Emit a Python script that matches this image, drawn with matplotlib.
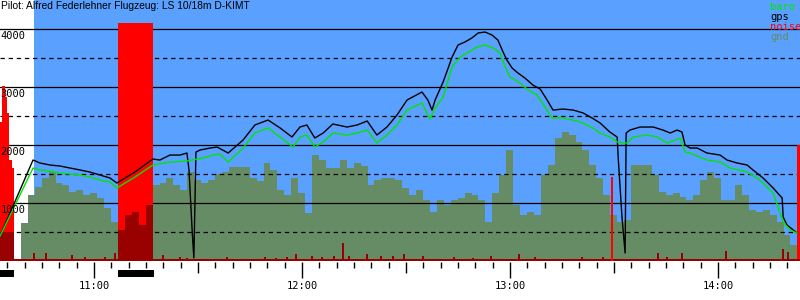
import numpy as np
from matplotlib import pyplot as plt

# times are minutes after 10:00, altitudes in metres
title = "Pilot: Alfred Federlehner Flugzeug: LS 10/18m D-KIMT"
flight_start = 42.7
t_min, t_max = 32.88, 263.65

gps_t = [32.9, 42.4, 44.4, 47.3, 50.2, 53.1, 56.0, 58.8, 61.7, 64.6, 66.6, 71.8, 77.0, 79.0,
         81.9, 84.8, 86.8, 87.4, 88.3, 88.8, 89.4, 90.6, 93.5, 95.5, 98.7, 103.0, 106.4,
         110.2, 113.7, 117.1, 119.4, 121.4, 123.7, 126.1, 128.9, 133.0, 135.9, 138.8,
         141.6, 144.5, 147.4, 150.3, 154.6, 156.3, 157.5, 158.4, 160.7, 163.3, 165.0,
         167.0, 169.0, 170.8, 172.8, 174.8, 176.5, 178.0, 179.1, 180.6, 182.3, 184.3,
         186.6, 188.7, 190.7, 192.4, 195.3, 198.2, 201.1, 203.7, 206.0, 208.8, 210.9,
         211.2, 212.3, 213.2, 213.5, 214.6, 217.5, 221.3, 224.1, 226.2, 228.2, 229.6,
         230.5, 231.9, 234.0, 236.8, 240.6, 242.6, 245.5, 248.4, 250.1, 253.0, 255.9,
         258.5, 258.8, 259.9, 262.8]
gps_alt = [431, 1741, 1690, 1655, 1638, 1603, 1569, 1534, 1483, 1431, 1345, 1534, 1758, 1741,
           1827, 1827, 1862, 1569, 534, 52, 1879, 1914, 1948, 1965, 1862, 2086, 2345,
           2431, 2293, 2138, 2310, 2345, 2121, 2207, 2362, 2310, 2345, 2414,
           2172, 2310, 2517, 2776, 2914, 2776, 2603, 2776, 3086, 3517, 3724,
           3776, 3845, 3931, 3948, 3896, 3810, 3603, 3465, 3327, 3241, 3155,
           3034, 2965, 2776, 2603, 2620, 2603, 2552, 2465, 2379, 2224, 2138,
           1793, 759, 138, 2207, 2258, 2310, 2310, 2258, 2207, 2258, 2224,
           2000, 1948, 1948, 1862, 1827, 1741, 1690, 1655, 1569, 1431, 1259,
           1086, 759, 621, 483]

baro_t = [32.9, 42.4, 44.4, 47.3, 50.2, 53.1, 56.0, 58.8, 61.7, 64.6, 66.6, 71.8, 77.0, 81.9,
          86.8, 91.4, 94.3, 96.3, 98.7, 103.0, 106.4, 110.2, 113.7, 117.4, 119.4, 121.4,
          123.7, 126.1, 128.9, 133.0, 135.9, 138.8, 141.6, 144.5, 147.4, 150.3, 154.6,
          156.9, 158.4, 160.7, 163.3, 165.6, 167.6, 170.5, 172.8, 175.1, 177.1, 178.6,
          180.0, 182.9, 185.2, 187.8, 190.1, 192.1, 195.3, 198.2, 201.1, 203.9, 206.0,
          208.8, 210.9, 213.8, 215.5, 219.5, 222.5, 225.3, 229.1, 230.5, 231.9, 236.8,
          240.6, 243.5, 248.4, 252.1, 255.9, 258.8, 260.8, 262.8]
baro_alt = [431, 1603, 1569, 1552, 1517, 1500, 1483, 1448, 1396, 1362, 1259, 1448, 1655, 1707,
            1724, 1776, 1827, 1845, 1707, 1948, 2207, 2293, 2138, 1965, 2138, 2172,
            1965, 2052, 2207, 2172, 2207, 2258, 2034, 2172, 2345, 2603, 2724,
            2448, 2638, 2827, 3345, 3517, 3586, 3689, 3724, 3672, 3586, 3345,
            3172, 3069, 2948, 2862, 2655, 2465, 2465, 2431, 2379, 2293, 2207,
            2138, 2052, 2034, 2138, 2172, 2138, 2034, 2121, 1879, 1862, 1741,
            1707, 1603, 1534, 1396, 1172, 672, 534, 483]

# ground elevation, one value per 2 minutes starting 10:32:54
gnd_start = 32.9
gnd = [500, 500, 0, 655, 1140, 1275, 1430, 1530, 1345, 1310, 1190, 1225, 1140, 1170,
       1085, 915, 670, 535, 790, 845, 620, 965, 1310, 1345, 1430, 1310, 1225, 1535,
       1395, 1345, 1395, 1500, 1535, 1620, 1620, 1620, 1430, 1380, 1690, 1570, 1225,
       1140, 1430, 1170, 830, 1830, 1740, 1600, 1600, 1740, 1600, 1690, 1640, 1310,
       1395, 1430, 1430, 1395, 1260, 1140, 1225, 1050, 845, 1050, 965, 1050, 1085,
       1170, 1140, 1050, 670, 1170, 1480, 1915, 965, 790, 845, 790, 1480, 1655, 2120,
       2225, 2170, 2050, 1915, 1655, 1430, 1140, 790, 670, 705, 1655, 1655, 1655, 1480,
       1190, 1140, 1170, 1105, 1050, 1140, 1395, 1535, 1430, 1050, 1050, 1310, 1140,
       880, 845, 880, 790, 670, 450, 275]

# engine noise periods
noise_start = [32.9, 33.5, 34.4, 35.0, 35.5, 36.2, 66.9, 262.8]
noise_end = [33.5, 34.4, 35.0, 35.5, 36.2, 36.9, 76.9, 263.7]
noise_level = [2400, 3017, 2828, 2552, 1741, 1600, 4110, 2000]
engine_runs = [(32.9, 36.9), (66.9, 77.3)]

# short noise spikes
spike_t = [42.7, 46.2, 53.7, 57.4, 63.2, 66.1, 79.9, 84.8, 86.8, 98.4, 109.3, 112.5,
           115.7, 118.3, 122.9, 125.8, 129.2, 131.8, 133.6, 138.8, 142.8, 146.2, 149.4,
           154.9, 163.8, 169.3, 174.5, 182.6, 187.2, 200.8, 206.8, 209.4, 222.7, 225.3,
           229.6, 242.3, 258.8, 260.2]
spike_v = [138, 138, 103, 69, 69, 138, 103, 69, 60, 69, 69, 60, 69, 121, 86, 69, 86,
           310, 86, 121, 86, 86, 121, 86, 69, 60, 86, 121, 69, 69, 69, 1448, 138, 69,
           138, 172, 207, 155]
noise_floor = 35

blue = '#5aa0ff'
gnd_col = '#658c64'
dark_red = '#990000'
baro_col = '#00e600'

fig = plt.figure(figsize=(8, 3), dpi=100)
ax = fig.add_axes([0, 0, 1, 1])
ax.set_xlim(t_min, t_max)
ax.set_ylim(-672, 4500)
ax.axis('off')

ax.fill_between([flight_start, t_max], 0, 4500, color=blue, lw=0, zorder=0)

gnd_t = gnd_start + 2 * np.arange(len(gnd))
engine = np.zeros(len(gnd), dtype=bool)
for s, e in engine_runs:
    engine |= (gnd_t >= s - 0.01) & (gnd_t < e - 0.5)
ax.bar(gnd_t, gnd, width=2, align='edge', color=gnd_col, lw=0, zorder=1)

# grid
for v in range(500, 4001, 500):
    if v % 1000 == 0:
        ax.axhline(v, color='black', lw=0.9, zorder=2)
    else:
        ax.axhline(v, color='black', lw=0.9, ls=(0, (3.5, 3)), zorder=2)

ns = np.array(noise_start)
ne = np.array(noise_end)
ax.bar(ns, noise_level, width=ne - ns, align='edge', color='red', lw=0, zorder=3)
ax.bar(gnd_t[engine], np.array(gnd)[engine], width=2, align='edge', color=dark_red,
       lw=0, zorder=3.5)

ax.fill_between([t_min, t_max], 0, noise_floor, color=dark_red, lw=0, zorder=3)
scol = ['red' if v > 1000 else dark_red for v in spike_v]
ax.bar(spike_t, spike_v, width=0.45, color=scol, lw=0, zorder=3)

ax.plot(gps_t, gps_alt, color='black', lw=1.0, zorder=5)
ax.plot(baro_t, baro_alt, color=baro_col, lw=1.0, zorder=6)

# engine run markers under the axis
for s, e in engine_runs:
    ax.fill_between([s, e], -155, -276, color='black', lw=0)

# time ticks
for t in range(35, 264, 5):
    if t % 60 == 0:
        y0 = -293
    elif t % 30 == 0:
        y0 = -207
    else:
        y0 = -121
    ax.vlines(t, y0, -10, color='black', lw=1)
for t in range(60, 264, 60):
    ax.text(t, -431, '%d:00' % (10 + t // 60), ha='center', va='center',
            fontsize=7.5, family='DejaVu Sans Mono')

for v in range(1000, 4001, 1000):
    ax.text(t_min + 0.1, v - 40, str(v), ha='left', va='top', fontsize=7.5,
            family='DejaVu Sans Mono', zorder=7)

ax.text(0.001, 0.997, title, transform=ax.transAxes, ha='left', va='top',
        fontsize=7.35, family='Liberation Sans', zorder=7)

leg = [('baro', baro_col), ('gps', 'black'), ('noise', 'red'), ('gnd', gnd_col)]
for i, (name, c) in enumerate(leg):
    ax.text(0.9625, 1 - (7.5 + 9.7 * i) / 300, name, transform=ax.transAxes, ha='left',
            va='center', fontsize=7.5, family='DejaVu Sans Mono', color=c, zorder=7)

fig.savefig('out.png', dpi=100)
